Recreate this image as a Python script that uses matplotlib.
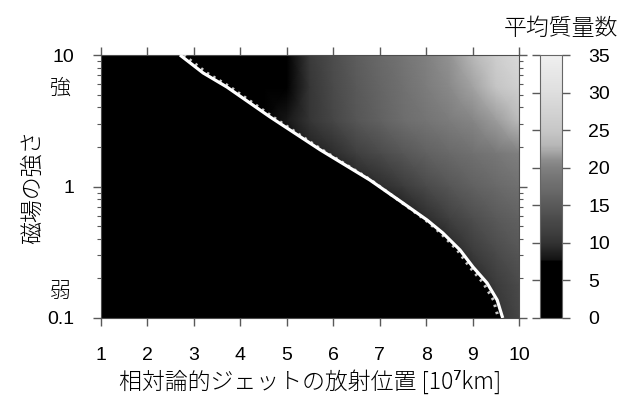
import numpy as np
import matplotlib
matplotlib.use("Agg")
import matplotlib.pyplot as plt
from matplotlib.colors import LinearSegmentedColormap
from matplotlib.ticker import LogLocator, FixedLocator, NullFormatter

# ---------------- data ----------------
x_grid = [1, 1.5, 2, 2.5, 3, 3.5, 4, 4.5, 5, 5.5, 6, 6.5, 7, 7.5, 8, 8.5, 9, 9.5, 10]
y_grid = [10, 5.62, 3.16, 1.78, 1.0, 0.562, 0.316, 0.178, 0.1]
# mean mass number field (values left of the boundary are hidden in black)
mass_field = [
    [0, 0, 0, 0, 0, 0, 0, 0, 0, 11, 13.5, 15.5, 17, 18.5, 20, 21.2, 23, 26.5, 29],
    [0, 0, 0, 0, 0, 0, 0, 0, 0, 10.5, 13, 15, 16.5, 18, 19.5, 20.7, 22, 24.5, 27],
    [0, 0, 0, 0, 0, 0, 0, 0, 8, 10.5, 12.5, 14.5, 16, 17.5, 18.5, 19.5, 20.5, 21.7, 23.5],
    [0, 0, 0, 0, 0, 0, 0, 0, 7.5, 8.5, 9.5, 11.5, 13, 14.5, 16, 17, 18, 19, 20],
    [0, 0, 0, 0, 0, 0, 0, 0, 0, 0, 7.5, 8.5, 9.5, 11, 13, 14.5, 16, 17, 18],
    [0, 0, 0, 0, 0, 0, 0, 0, 0, 0, 0, 0, 0, 8, 9.5, 11.5, 13.5, 15, 16],
    [0, 0, 0, 0, 0, 0, 0, 0, 0, 0, 0, 0, 0, 0, 0, 9, 11, 13, 14.5],
    [0, 0, 0, 0, 0, 0, 0, 0, 0, 0, 0, 0, 0, 0, 0, 0, 9, 11, 13],
    [0, 0, 0, 0, 0, 0, 0, 0, 0, 0, 0, 0, 0, 0, 0, 0, 0, 10, 12.5],
]
# boundary (solid white) and second boundary (dotted)
boundary_x = [2.70, 3.20, 3.71, 4.64, 5.72, 6.79, 7.50, 8.02, 8.36, 8.73, 9.01, 9.31, 9.53, 9.63, 9.65]
boundary_y = [10, 7.30, 5.71, 3.38, 1.90, 1.12, 0.749, 0.556, 0.443, 0.329, 0.244, 0.185, 0.137, 0.105, 0.1]
dotted_x = [2.78, 3.28, 3.78, 4.70, 5.76, 6.81, 7.49, 7.99, 8.31, 8.67, 8.94, 9.23, 9.45, 9.54, 9.55]
dotted_y = [10, 7.30, 5.71, 3.38, 1.90, 1.12, 0.749, 0.556, 0.443, 0.329, 0.244, 0.185, 0.137, 0.105, 0.1]

x_ticks = [1, 2, 3, 4, 5, 6, 7, 8, 9, 10]
y_ticks = [0.1, 1, 10]
y_ticklabels = ["0.1", "1", "10"]
cb_ticks = [0, 5, 10, 15, 20, 25, 30, 35]

# ---------------- style ----------------
JP = ["Noto Sans CJK JP", "Noto Sans", "DejaVu Sans"]
NUM = ["Liberation Sans", "DejaVu Sans"]
plt.rcParams["font.family"] = NUM
JPW = "light"

cmap = LinearSegmentedColormap.from_list(
    "mass",
    [(0.0, (0, 0, 0)), (7.5 / 35, (0, 0, 0)), (7.6 / 35, (0.07,) * 3),
     (10 / 35, (0.2,) * 3), (15 / 35, (0.35,) * 3), (20 / 35, (0.5,) * 3),
     (21 / 35, (0.55,) * 3), (23 / 35, (0.72,) * 3), (25 / 35, (0.78,) * 3),
     (30 / 35, (0.87,) * 3), (1.0, (0.94,) * 3)])

fig = plt.figure(figsize=(6.22, 3.96), dpi=100)
ax = fig.add_axes([101 / 622, 78 / 396, 418 / 622, 263 / 396])
cax = fig.add_axes([540 / 622, 78 / 396, 22 / 622, 263 / 396])

X, Y = np.meshgrid(np.array(x_grid), np.array(y_grid))
Z = np.array(mass_field)
ax.set_yscale("log")
mesh = ax.pcolormesh(X, Y, Z, shading="gouraud", cmap=cmap, vmin=0, vmax=35, rasterized=True)
ax.fill_betweenx(boundary_y, 1, boundary_x, color="black", lw=0, zorder=2)
ax.plot(dotted_x, dotted_y, color="0.78", lw=2.2, ls=(0, (0.8, 1.6)), zorder=3)
ax.plot(boundary_x, boundary_y, color="white", lw=2.3, zorder=4, solid_capstyle="butt")

ax.set_xlim(1, 10)
ax.set_ylim(0.1, 10)
ax.set_xticks(x_ticks)
ax.set_xticklabels([str(t) for t in x_ticks])
ax.yaxis.set_major_locator(FixedLocator(y_ticks))
ax.set_yticklabels(y_ticklabels)
ax.yaxis.set_minor_locator(LogLocator(base=10, subs=np.arange(2, 10)))
ax.yaxis.set_minor_formatter(NullFormatter())

tc = "0.35"
ax.tick_params(axis="both", which="major", direction="out", length=6, width=1,
               color=tc, labelsize=14, top=True, right=True)
ax.tick_params(axis="y", which="minor", direction="out", length=3, width=0.8,
               color=tc, left=True, right=True)
ax.tick_params(axis="x", which="major", pad=15)
ax.tick_params(axis="y", which="major", pad=13)
for s in ax.spines.values():
    s.set_color("0.3")
    s.set_linewidth(0.8)

ax.set_xlabel("相対論的ジェットの放射位置 [10⁷km]", family=JP, fontsize=16.5,
              fontweight=JPW, labelpad=4)
ax.set_ylabel("磁場の強さ", family=JP, fontsize=16.5, fontweight=JPW, labelpad=2)
ax.text(-0.098, 0.875, "強", transform=ax.transAxes, family=JP, fontsize=15,
        fontweight=JPW, ha="center", va="center")
ax.text(-0.098, 0.099, "弱", transform=ax.transAxes, family=JP, fontsize=15,
        fontweight=JPW, ha="center", va="center")

cb = fig.colorbar(mesh, cax=cax, ticks=cb_ticks)
cb.outline.set_edgecolor("0.4")
cb.outline.set_linewidth(0.8)
cax.tick_params(axis="y", direction="out", length=6, width=1, color=tc,
                left=True, right=True, labelsize=14, pad=13)
cax.minorticks_off()
fig.text(561 / 622, 1 - 28 / 396, "平均質量数", family=JP, fontsize=16.5,
         fontweight=JPW, ha="center", va="center")

fig.savefig("out.png", dpi=100)
